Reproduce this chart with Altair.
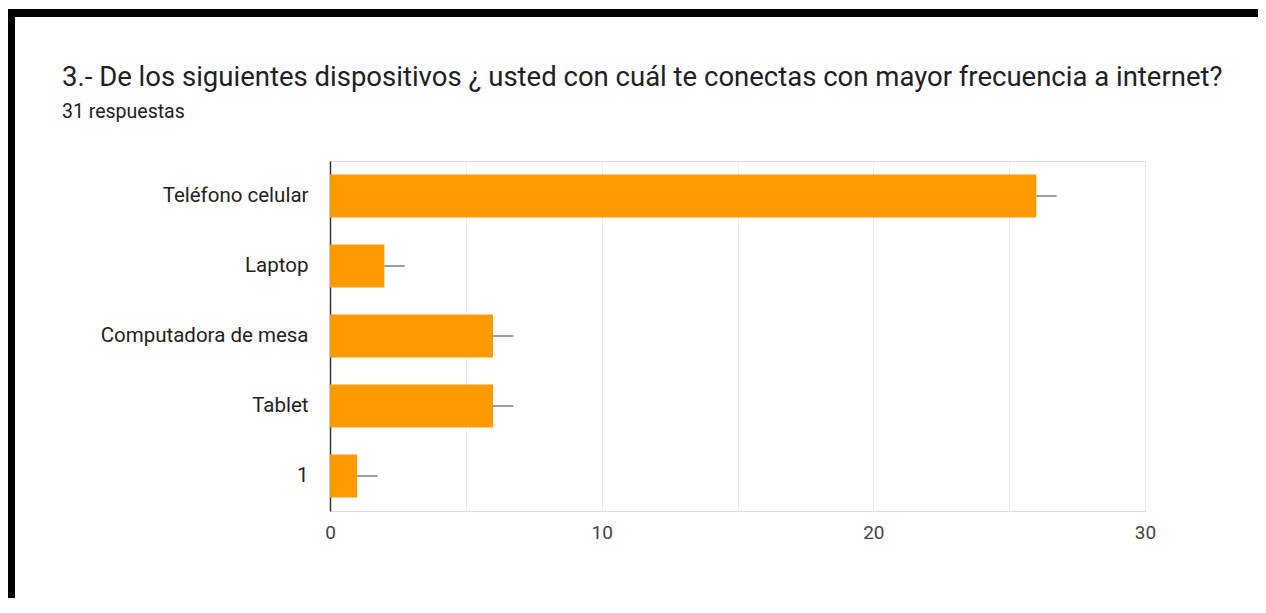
import altair as alt
import pandas as pd

categories = ["Teléfono celular", "Laptop", "Computadora de mesa", "Tablet", "1"]
values = [26, 2, 6, 6, 1]
x_ticks = [0, 5, 10, 15, 20, 25, 30]

title_text = "3.- De los siguientes dispositivos ¿ usted con cuál te conectas con mayor frecuencia a internet?"
subtitle_text = "31 respuestas"

df = pd.DataFrame({"categoria": categories, "valor": values})
df_title = pd.DataFrame({"t": [title_text]})
df_sub = pd.DataFrame({"t": [subtitle_text]})

W, H = 815, 350
PAD_L, PAD_T, PAD_R, PAD_B = 322, 153, 113, 87

y_enc = alt.Y(
    "categoria:N",
    sort=categories,
    title=None,
    scale=alt.Scale(paddingInner=0.386, paddingOuter=0.193),
    axis=alt.Axis(
        labelFont="Roboto", labelFontSize=20.5, labelColor="#222222",
        labelPadding=22, labelLimit=300, ticks=False,
        domainColor="#333333", domainWidth=1.5, grid=False,
    ),
)
x_enc = alt.X(
    "valor:Q",
    title=None,
    scale=alt.Scale(domain=[0, 30], nice=False),
    axis=alt.Axis(
        values=x_ticks, labelExpr="datum.value % 10 == 0 ? datum.label : ''",
        labelFont="Roboto", labelFontSize=19, labelColor="#444444",
        labelPadding=12, labelFlush=False, ticks=False, domain=False,
        grid=True, gridColor="#ececec", gridWidth=1,
    ),
)

bars = alt.Chart(df).mark_bar(color="#ff9900").encode(x=x_enc, y=y_enc)

stubs = alt.Chart(df).transform_calculate(
    fin="datum.valor + 0.75"
).mark_rule(color="#9e9e9e", strokeWidth=2).encode(
    x="valor:Q", x2="fin:Q", y=alt.Y("categoria:N", sort=categories, bandPosition=0.5)
)

title = alt.Chart(df_title).mark_text(
    font="Roboto", fontSize=27.5, color="#202124", align="left", baseline="alphabetic"
).encode(text="t:N", x=alt.value(-268), y=alt.value(86 - 8 - PAD_T))

subtitle = alt.Chart(df_sub).mark_text(
    font="Roboto", fontSize=19.5, color="#202124", align="left", baseline="alphabetic"
).encode(text="t:N", x=alt.value(-268), y=alt.value(118 - 8 - PAD_T))

frame_top = alt.Chart(df_title).mark_rule(color="#000000", strokeWidth=8).encode(
    x=alt.value(-PAD_L), x2=alt.value(W + PAD_R), y=alt.value(-PAD_T + 5)
)
frame_left = alt.Chart(df_title).mark_rule(color="#000000", strokeWidth=8).encode(
    x=alt.value(-PAD_L + 3), y=alt.value(-PAD_T + 1), y2=alt.value(H + PAD_B)
)

chart = alt.layer(bars, stubs, title, subtitle, frame_top, frame_left).properties(
    width=W, height=H,
    autosize=alt.AutoSizeParams(type="none"),
    padding={"left": PAD_L, "top": PAD_T, "right": PAD_R, "bottom": PAD_B},
).configure_view(
    stroke="#ececec", strokeWidth=2
).configure(background="#ffffff")

chart.save("out.html", embed_options={"renderer": "svg", "actions": False})
